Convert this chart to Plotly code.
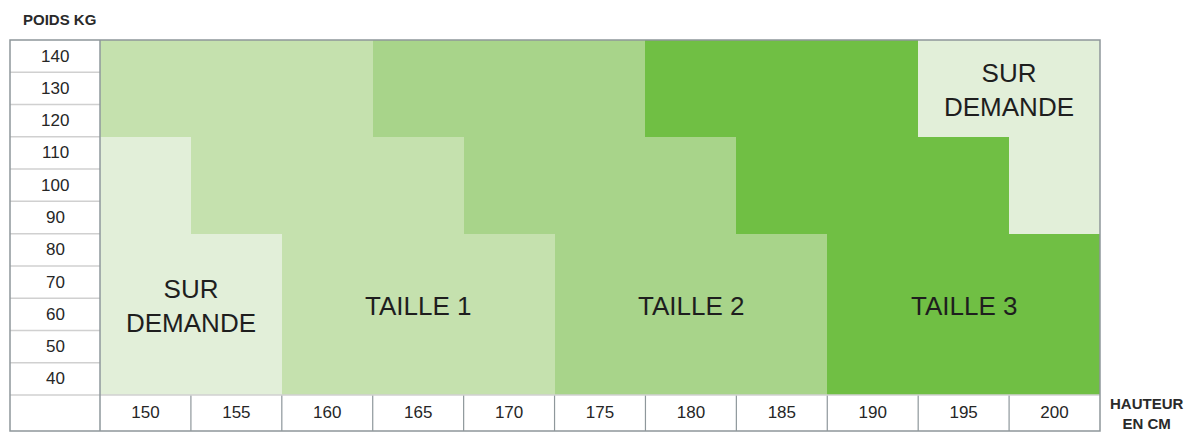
import plotly.graph_objects as go

# ---- data ----
heights = [150, 155, 160, 165, 170, 175, 180, 185, 190, 195, 200]
weights = [40, 50, 60, 70, 80, 90, 100, 110, 120, 130, 140]
zone_names = ["SUR<br>DEMANDE", "TAILLE 1", "TAILLE 2", "TAILLE 3"]
zone_colors = ["#e2efd9", "#c5e1ae", "#a8d48a", "#70bf44"]

# zone index per weight band (rows follow `weights`), columns follow `heights`
band_40_80 = [0, 0, 1, 1, 1, 2, 2, 2, 3, 3, 3]
band_90_110 = [0, 1, 1, 1, 2, 2, 2, 3, 3, 3, 0]
band_120_140 = [1, 1, 1, 2, 2, 2, 3, 3, 3, 0, 0]
zones = [band_40_80] * 5 + [band_90_110] * 3 + [band_120_140] * 3

# zone label anchors (height, weight, zone index)
zone_labels = [(152.5, 62.5, 0), (165, 62.5, 1), (180, 62.5, 2), (195, 62.5, 3), (197.5, 129.5, 0)]

y_title = "POIDS KG"
x_title = "HAUTEUR<br>EN CM"

# ---- layout geometry (page body adds an 8px offset) ----
W, H = 1190, 425
ml, mr, mt, mb = 2, 98, 32, 2
pw = W - ml - mr
ph = H - mt - mb
label_col = 90 / pw          # left label column width (paper fraction)
label_row = 36 / ph          # bottom label row height (paper fraction)

FONT = "Liberation Sans, Arial, Helvetica, sans-serif"
FRAME = "#8e979b"
LIGHT = "#d0d0d0"
TXT = "#262626"

n = len(zone_colors)
cs = []
for i, c in enumerate(zone_colors):
    cs.append([i / n, c])
    cs.append([(i + 1) / n, c])

fig = go.Figure(go.Heatmap(
    x=heights, y=weights, z=zones,
    colorscale=cs, zmin=-0.5, zmax=n - 0.5,
    showscale=False, hoverinfo="skip",
))

annotations = []
for w in weights:
    annotations.append(dict(x=label_col / 2, xref="paper", y=w, yref="y",
                            text=str(w), showarrow=False, xanchor="center",
                            font=dict(family=FONT, size=17, color=TXT)))
for hx, wy, zi in zone_labels:
    annotations.append(dict(x=hx, y=wy, xref="x", yref="y", text=zone_names[zi],
                            showarrow=False, xanchor="center", yanchor="middle",
                            font=dict(family=FONT, size=26, color="#1e1e1e")))
annotations.append(dict(x=0.01, xref="paper", y=1, yref="paper", yshift=21,
                        text="<b>" + y_title + "</b>", showarrow=False,
                        xanchor="left", yanchor="middle",
                        font=dict(family=FONT, size=15, color="#2a2a2a")))
annotations.append(dict(x=1, xref="paper", xshift=8, y=label_row / 2, yref="paper",
                        text="<b>" + x_title + "</b>", showarrow=False,
                        xanchor="left", yanchor="middle",
                        font=dict(family=FONT, size=15, color="#2a2a2a")))

shapes = []
# row separators in the label column
for a, b in zip(weights[:-1], weights[1:]):
    shapes.append(dict(type="line", xref="paper", yref="y", x0=0, x1=label_col,
                       y0=(a + b) / 2, y1=(a + b) / 2,
                       line=dict(color=LIGHT, width=1.5)))
# column separators in the label row
for a, b in zip(heights[:-1], heights[1:]):
    shapes.append(dict(type="line", xref="x", yref="paper", x0=(a + b) / 2, x1=(a + b) / 2,
                       y0=0, y1=label_row, line=dict(color=FRAME, width=1.2)))
# separators between grid and labels
shapes.append(dict(type="line", xref="paper", yref="paper", x0=0, x1=1,
                   y0=label_row, y1=label_row, line=dict(color=LIGHT, width=1.5)))
shapes.append(dict(type="line", xref="paper", yref="paper", x0=label_col, x1=label_col,
                   y0=0, y1=1, line=dict(color=FRAME, width=1.5)))
# outer frame
shapes.append(dict(type="rect", xref="paper", yref="paper", x0=0, x1=1, y0=0, y1=1,
                   line=dict(color=FRAME, width=1.5)))

fig.update_layout(
    width=W, height=H,
    margin=dict(l=ml, r=mr, t=mt, b=mb),
    paper_bgcolor="white", plot_bgcolor="white",
    xaxis=dict(domain=[label_col, 1], range=[heights[0] - 2.5, heights[-1] + 2.5],
               tickvals=heights, ticktext=[str(h) for h in heights],
               ticks="outside", ticklen=2, tickcolor="rgba(0,0,0,0)",
               showgrid=False, zeroline=False, showline=False, fixedrange=True,
               tickfont=dict(family=FONT, size=17, color=TXT)),
    yaxis=dict(domain=[label_row, 1], range=[weights[0] - 5, weights[-1] + 5],
               showticklabels=False, ticks="", showgrid=False, zeroline=False,
               showline=False, fixedrange=True),
    annotations=annotations,
    shapes=shapes,
    showlegend=False,
)

fig.write_html("out.html")
